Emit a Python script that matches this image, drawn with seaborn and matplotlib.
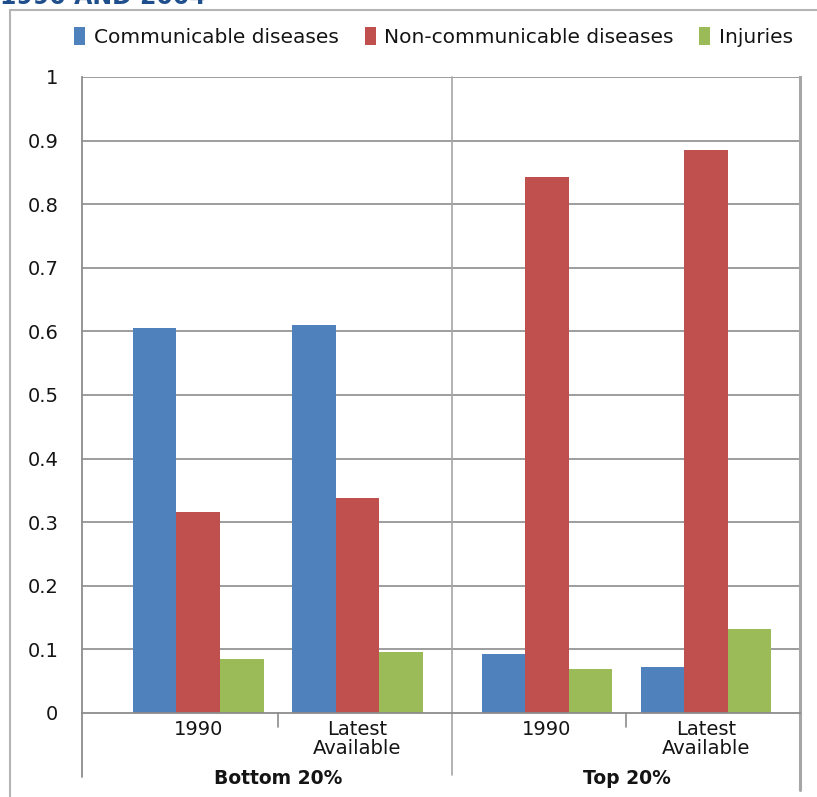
import matplotlib
matplotlib.use("Agg")
import matplotlib.pyplot as plt
import matplotlib.patches as mpatches
import seaborn as sns
import pandas as pd

# ---- data -------------------------------------------------------------
groups = ["Bottom 20%", "Top 20%"]
periods = ["1990", "Latest\nAvailable"]
causes = ["Communicable diseases", "Non-communicable diseases", "Injuries"]
communicable = [0.605, 0.610, 0.093, 0.072]
non_communicable = [0.316, 0.338, 0.843, 0.885]
injuries = [0.085, 0.096, 0.069, 0.132]
y_ticks = [0, 0.1, 0.2, 0.3, 0.4, 0.5, 0.6, 0.7, 0.8, 0.9, 1]
y_tick_labels = ["0", "0.1", "0.2", "0.3", "0.4", "0.5", "0.6", "0.7", "0.8", "0.9", "1"]
title = "1990 AND 2004"

# category slots on the x axis (a wider gap between the two quintile groups)
slot_pos = [0.0, 1.0, 2.19, 3.19]
slot_labels = [p for _ in groups for p in periods]

colors = ["#4F81BD", "#C0504D", "#9BBB59"]

rows = []
for series, vals in zip(causes, [communicable, non_communicable, injuries]):
    for pos, v in zip(slot_pos, vals):
        rows.append({"pos": pos, "cause": series, "share": v})
df = pd.DataFrame(rows)

# ---- figure -----------------------------------------------------------
sns.set_style("white")
plt.rcParams["font.family"] = ["DejaVu Sans"]

fig = plt.figure(figsize=(8.17, 7.97), dpi=100)
ax = fig.add_axes([0.1004, 0.1054, 0.8788, 0.798])

sns.barplot(data=df, x="pos", y="share", hue="cause", hue_order=causes,
            palette=colors, native_scale=True, width=0.82, saturation=1,
            linewidth=0, ax=ax, legend=False)

x_lo, x_hi = -0.73, 3.78
ax.set_xlim(x_lo, x_hi)
ax.set_ylim(0, 1)
ax.set_yticks(y_ticks)
ax.set_yticklabels(y_tick_labels, fontsize=14, color="#141414")
ax.set_xticks(slot_pos)
ax.set_xticklabels(slot_labels, fontsize=14, color="#141414", linespacing=0.98)
ax.tick_params(axis="x", length=0, pad=5)
ax.tick_params(axis="y", length=6, width=1.2, color="#8c8c8c", direction="out", pad=11)
ax.set_xlabel("")
ax.set_ylabel("")

# gridlines
ax.set_axisbelow(True)
for yv in y_ticks[1:]:
    ax.axhline(yv, color="#8c8c8c", lw=1.2, zorder=0)

ax.spines["top"].set_visible(False)
for s in ["left", "bottom", "right"]:
    ax.spines[s].set_color("#8c8c8c")
    ax.spines[s].set_linewidth(1.3)
ax.spines["right"].set_color("#a6a6a6")
ax.spines["right"].set_linewidth(2.2)

# multi-level category axis lines below the plot
unit = 1 / 636.0
tr = ax.get_xaxis_transform()
mid_split = (slot_pos[1] + slot_pos[2]) / 2
ax.plot([x_lo, x_lo], [0, -64 * unit], transform=tr, color="#8c8c8c", lw=1.3, clip_on=False)
ax.plot([x_hi, x_hi], [0, -77 * unit], transform=tr, color="#a6a6a6", lw=2.2, clip_on=False)
ax.plot([mid_split, mid_split], [1, -62 * unit], transform=tr, color="#a6a6a6", lw=1.2, clip_on=False)
for a, b in [(0, 1), (2, 3)]:
    m = (slot_pos[a] + slot_pos[b]) / 2
    ax.plot([m, m], [0, -14 * unit], transform=tr, color="#8c8c8c", lw=1.2, clip_on=False)

for (a, b), g in zip([(0, 1), (2, 3)], groups):
    m = (slot_pos[a] + slot_pos[b]) / 2
    ax.text(m, -66 * unit, g, transform=tr, ha="center", va="center",
            fontsize=13.5, fontweight="bold", color="#141414")

# outer chart frame
fig.add_artist(mpatches.Rectangle((10 / 817, -0.05), 1.0, 1 - 10 / 797 + 0.05,
                                  transform=fig.transFigure, fill=False,
                                  edgecolor="#b4b4b4", lw=1.5))

# title (runs off the top edge)
fig.text(0.0, 1.0 - 4 / 797, title, ha="left", va="baseline", fontsize=17,
         fontweight="bold", color="#1F4E8C")

# legend
handles = [mpatches.Patch(facecolor=c, edgecolor="none") for c in colors]
fig.legend(handles, causes, loc="center", bbox_to_anchor=(0.5306, 0.954), ncol=3,
           frameon=False, fontsize=14.5, handlelength=0.55, handleheight=1.05,
           handletextpad=0.4, columnspacing=1.3, labelcolor="#141414")

fig.savefig("out.png", dpi=100)
